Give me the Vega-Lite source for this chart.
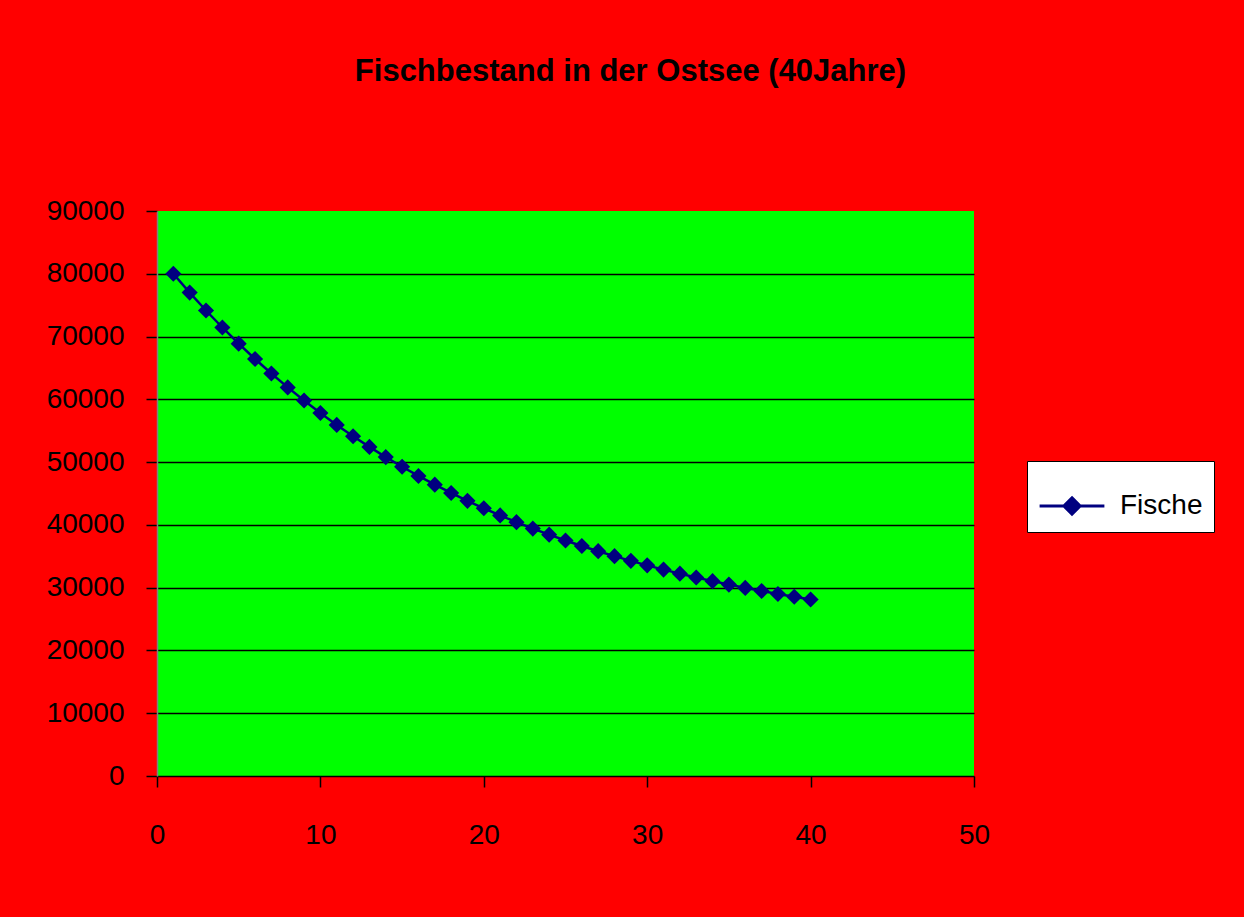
{
  "$schema": "https://vega.github.io/schema/vega-lite/v6.json",
  "autosize": {"type": "none"},
  "width": 817,
  "height": 565,
  "padding": {"left": 157, "top": 211, "right": 270, "bottom": 141},
  "background": "#ff0000",
  "config": {
    "font": "Liberation Sans",
    "view": {"fill": "#00ff00", "stroke": null}
  },
  "title": {
    "text": "Fischbestand in der Ostsee (40Jahre)",
    "fontSize": 31,
    "fontWeight": "bold",
    "color": "#000000",
    "anchor": "middle",
    "offset": 109,
    "dx": 65
  },
  "data": {
    "values": [
      {"Jahr": 1, "Fische": 80000},
      {"Jahr": 2, "Fische": 77000},
      {"Jahr": 3, "Fische": 74150},
      {"Jahr": 4, "Fische": 71443},
      {"Jahr": 5, "Fische": 68870},
      {"Jahr": 6, "Fische": 66427},
      {"Jahr": 7, "Fische": 64106},
      {"Jahr": 8, "Fische": 61900},
      {"Jahr": 9, "Fische": 59805},
      {"Jahr": 10, "Fische": 57815},
      {"Jahr": 11, "Fische": 55924},
      {"Jahr": 12, "Fische": 54128},
      {"Jahr": 13, "Fische": 52422},
      {"Jahr": 14, "Fische": 50801},
      {"Jahr": 15, "Fische": 49260},
      {"Jahr": 16, "Fische": 47797},
      {"Jahr": 17, "Fische": 46408},
      {"Jahr": 18, "Fische": 45087},
      {"Jahr": 19, "Fische": 43833},
      {"Jahr": 20, "Fische": 42641},
      {"Jahr": 21, "Fische": 41509},
      {"Jahr": 22, "Fische": 40434},
      {"Jahr": 23, "Fische": 39412},
      {"Jahr": 24, "Fische": 38441},
      {"Jahr": 25, "Fische": 37519},
      {"Jahr": 26, "Fische": 36643},
      {"Jahr": 27, "Fische": 35811},
      {"Jahr": 28, "Fische": 35021},
      {"Jahr": 29, "Fische": 34270},
      {"Jahr": 30, "Fische": 33556},
      {"Jahr": 31, "Fische": 32878},
      {"Jahr": 32, "Fische": 32234},
      {"Jahr": 33, "Fische": 31623},
      {"Jahr": 34, "Fische": 31041},
      {"Jahr": 35, "Fische": 30489},
      {"Jahr": 36, "Fische": 29965},
      {"Jahr": 37, "Fische": 29467},
      {"Jahr": 38, "Fische": 28993},
      {"Jahr": 39, "Fische": 28544},
      {"Jahr": 40, "Fische": 28117}
    ]
  },
  "encoding": {
    "x": {
      "field": "Jahr",
      "type": "quantitative",
      "scale": {"domain": [0, 50], "nice": false, "zero": false},
      "axis": {
        "title": null,
        "values": [0, 10, 20, 30, 40, 50],
        "grid": false,
        "domainColor": "#000000",
        "domainWidth": 1.5,
        "tickColor": "#000000",
        "tickWidth": 1.5,
        "tickSize": 11,
        "labelPadding": 34,
        "labelFontSize": 28,
        "labelColor": "#000000",
        "labelFlush": false
      }
    },
    "y": {
      "field": "Fische",
      "type": "quantitative",
      "scale": {"domain": [0, 90000], "nice": false},
      "axis": {
        "title": null,
        "values": [0, 10000, 20000, 30000, 40000, 50000, 60000, 70000, 80000, 90000],
        "format": "d",
        "grid": true,
        "gridColor": "#000000",
        "gridWidth": 1.5,
        "gridOpacity": {"condition": {"test": "datum.value == 90000 || datum.value == 0", "value": 0}, "value": 1},
        "domainColor": "#808080",
        "domainWidth": 1.5,
        "tickColor": "#000000",
        "tickWidth": 1.5,
        "tickSize": 11,
        "labelPadding": 22,
        "labelFontSize": 28,
        "labelColor": "#000000",
        "labelFlush": false
      }
    },
    "color": {
      "datum": "Fische",
      "type": "nominal",
      "scale": {"range": ["#000080"]},
      "legend": {
        "title": null,
        "orient": "none",
        "legendX": 870,
        "legendY": 250,
        "fillColor": "#ffffff",
        "strokeColor": "#000000",
        "padding": 11,
        "labelFontSize": 28,
        "labelColor": "#000000",
        "labelOffset": 14,
        "symbolType": "M-1,0L1,0M0,-0.25L0.25,0L0,0.25L-0.25,0Z",
        "symbolSize": 4200,
        "symbolStrokeWidth": 3,
        "symbolFillColor": "#000080",
        "symbolStrokeColor": "#000080"
      }
    }
  },
  "layer": [
    {"mark": {"type": "line", "strokeWidth": 2.5}},
    {"mark": {"type": "point", "shape": "diamond", "size": 260, "filled": true, "opacity": 1}}
  ]
}
